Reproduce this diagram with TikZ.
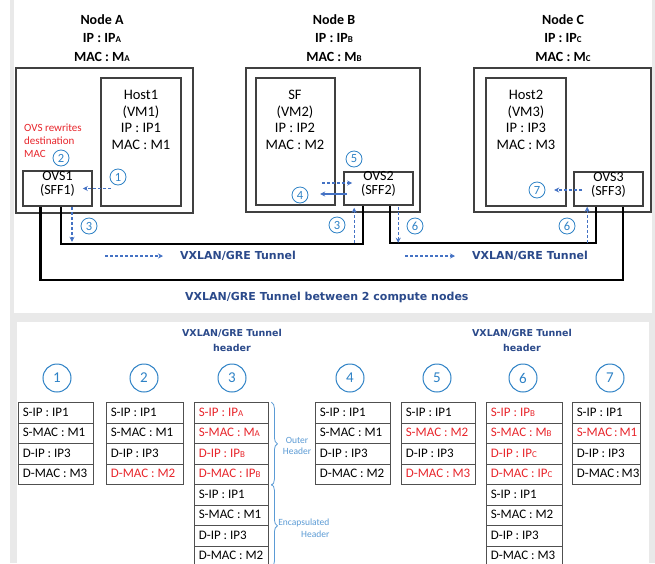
\documentclass[tikz,border=0pt]{standalone}
\usepackage{fontspec}
\setmainfont{Carlito}
\newfontfamily\tunnelfont{DejaVu Sans}
\usetikzlibrary{arrows.meta,calc,fit,matrix,decorations.pathreplacing}
\definecolor{frame}{HTML}{E9E9E9}
\definecolor{boxgray}{HTML}{404040}
\definecolor{cellgray}{HTML}{505050}
\definecolor{numblue}{HTML}{2E82C6}
\definecolor{flowblue}{HTML}{4472C4}
\definecolor{navy}{HTML}{2B4A8B}
\definecolor{hred}{HTML}{E8262C}
\definecolor{braceblue}{HTML}{5B9BD5}
\newcommand{\fs}[2]{\fontsize{#1}{#2}\selectfont}
\newcommand{\sm}[1]{{\fontsize{9}{9}\selectfont #1}}

\tikzset{
  box/.style={draw=boxgray, line width=1.6pt, inner sep=0pt},
  ovs/.style={align=center, font=\fs{14}{14}},
  title/.style={align=center, font=\bfseries\fs{14}{18.5}},
  vmtext/.style={align=center, font=\fs{14.5}{16.5}},
  note/.style={align=left, inner sep=0pt, text=hred, font=\fs{11}{13}},
  num/.style={circle, draw=numblue, text=numblue, line width=0.8pt, inner sep=0pt, minimum size=16pt, font=\fs{12.5}{12.5}},
  bignum/.style={num, line width=1pt, minimum size=28pt, font=\fs{15}{15}},
  flow/.style={flowblue, line width=1.2pt, dash pattern=on 3pt off 2pt},
  tunnel/.style={black, line width=2.2pt},
  tunneltxt/.style={inner sep=0pt, text=navy, font=\tunnelfont\bfseries\fs{11}{13}},
  hdr/.style={align=center, text=navy, font=\tunnelfont\bfseries\fs{9.5}{15}},
  cell/.style={draw=cellgray, line width=1.2pt, minimum height=20.5pt, inner xsep=4pt, inner ysep=0pt,
    text height=9.5pt, text depth=3pt, font=\fs{13}{15}},
  pkt/.style={matrix of nodes, anchor=north west, inner sep=0pt, row sep=-1.2pt,
    nodes={cell, execute at begin node={\hbox to #1\bgroup}, execute at end node={\hfil\egroup}}},
  brace/.style={decorate, decoration={brace, amplitude=6pt}, draw=braceblue, line width=0.8pt},
  bracetxt/.style={align=center, text=braceblue, font=\fs{9.5}{11.5}}
}

\begin{document}
\begin{tikzpicture}[x=1pt,y=-1pt,>={Stealth[length=5pt,width=5pt]}]
  \useasboundingbox (0,0) rectangle (655,563);
  \clip (0,0) rectangle (655,563);
  % grey backdrop and the two white panels
  \fill[frame] (10,0) rectangle (655,563);
  \fill[white] (14,0) rectangle (652,313);
  \fill[white] (17,322) rectangle (649,563);

  % compute node A
  \node[title] (titleA) at (102,38) {Node A\\IP : IP\sm{A}\\MAC : M\sm{A}};
  \node[box, fit={(16,68) (193,213)}] (nodeA) {};
  \node[box, fit={(101,78) (181,206)}] (host1) {};
  \node[vmtext] (host1txt) at (141,120) {Host1\\(VM1)\\IP : IP1\\MAC : M1};
  \node[box, ovs, fit={(23,171) (92,206)}] (ovs1) {OVS1\\(SFF1)};
  \node[note, anchor=west] (rewrite) at (24,141) {OVS rewrites\\destination\\MAC};

  % compute node B
  \node[title] (titleB) at (334,38) {Node B\\IP : IP\sm{B}\\MAC : M\sm{B}};
  \node[box, fit={(246,68) (420,212)}] (nodeB) {};
  \node[box, fit={(256,78) (335,205)}] (sf) {};
  \node[vmtext] (sftxt) at (295,120) {SF\\(VM2)\\IP : IP2\\MAC : M2};
  \node[box, ovs, fit={(344,172) (413,205)}] (ovs2) {OVS2\\(SFF2)};

  % compute node C
  \node[title] (titleC) at (563,38) {Node C\\IP : IP\sm{C}\\MAC : M\sm{C}};
  \node[box, fit={(474,68) (651,212)}] (nodeC) {};
  \node[box, fit={(486,78) (566,206)}] (host2) {};
  \node[vmtext] (host2txt) at (526,120) {Host2\\(VM3)\\IP : IP3\\MAC : M3};
  \node[box, ovs, fit={(574,172) (643,206)}] (ovs3) {OVS3\\(SFF3)};

  % tunnels
  \draw[tunnel] ($(ovs1.south west)!0.55!(ovs1.south east)$) -- ++(0,37) -| ($(ovs2.south west)!0.275!(ovs2.south east)$);
  \draw[tunnel] ($(ovs2.south west)!0.667!(ovs2.south east)$) -- ++(0,37) -| ($(ovs3.south west)!0.32!(ovs3.south east)$);
  \draw[tunnel] ($(ovs1.south west)!0.26!(ovs1.south east)$) -- ++(0,73) -| ($(ovs3.south west)!0.70!(ovs3.south east)$);

  % packet steps
  \node[num] (s1) at (118,177) {1};
  \node[num] (s2) at (61,158) {2};
  \node[num] (s3a) at (89,226) {3};
  \node[num] (s3b) at (337,225) {3};
  \node[num] (s4) at (300,195) {4};
  \node[num] (s5) at (354,159) {5};
  \node[num] (s6a) at (415,226) {6};
  \node[num] (s6b) at (567,226) {6};
  \node[num] (s7) at (537,190) {7};
  \draw[flow,->] ([xshift=11pt]host1.west |- ovs1.east) -- ([xshift=-10pt]ovs1.east);
  \draw[flow,->] ($(ovs1.south)+(14.5,0)$) -- ++(0,35);
  \draw[flow,->] ($(ovs2.south west)+(11,37)$) -- ($(ovs2.south west)+(11,2)$);
  \draw[flow,->] ($(ovs2.west)+(-21,-5.5)$) -- ($(ovs2.west)+(9,-5.5)$);
  \draw[flowblue,line width=1.2pt,->] ($(ovs2.west)+(4,5.5)$) -- ($(ovs2.west)+(-23,5.5)$);
  \draw[flow,->] ($(ovs2.south west)+(55,1)$) -- ($(ovs2.south west)+(55,37)$);
  \draw[flow,->] ($(ovs3.south west)+(14,36)$) -- ($(ovs3.south west)+(14,0)$);
  \draw[flow,->] ($(ovs3.west)+(9,1)$) -- ($(ovs3.west)+(-19,1)$);

  % legends
  \node[tunneltxt, anchor=west] (leg1) at (180,256) {VXLAN/GRE Tunnel};
  \draw[flow,->] ([xshift=-75pt]leg1.west) -- ([xshift=-17pt]leg1.west);
  \node[tunneltxt, anchor=west] (leg2) at (472,256) {VXLAN/GRE Tunnel};
  \draw[flow,->] ([xshift=-67pt]leg2.west) -- ([xshift=-17pt]leg2.west);
  \node[tunneltxt, anchor=west] (caption) at (185,297) {VXLAN/GRE Tunnel between 2 compute nodes};

  % headers at each step
  \node[hdr] (hdr3) at (232,340) {VXLAN/GRE Tunnel\\header};
  \node[hdr] (hdr6) at (522,340) {VXLAN/GRE Tunnel\\header};
  \node[bignum] (k1) at (57,378) {1};
  \node[bignum] (k2) at (144,378) {2};
  \node[bignum] (k3) at (232,378) {3};
  \node[bignum] (k4) at (350,378) {4};
  \node[bignum] (k5) at (437,378) {5};
  \node[bignum] (k6) at (523,378) {6};
  \node[bignum] (k7) at (610,378) {7};
  \matrix[pkt=67pt] (p1) at (18,402) {S-IP : IP1\\ S-MAC : M1\\ D-IP : IP3\\ D-MAC : M3\\};
  \matrix[pkt=69pt] (p2) at (106,402) {S-IP : IP1\\ S-MAC : M1\\ D-IP : IP3\\ |[text=hred]| D-MAC : M2\\};
  \matrix[pkt=66pt] (p3) at (194,402) {|[text=hred]| S-IP : IP\sm{A}\\ |[text=hred]| S-MAC : M\sm{A}\\
    |[text=hred]| D-IP : IP\sm{B}\\ |[text=hred]| D-MAC : IP\sm{B}\\
    S-IP : IP1\\ S-MAC : M1\\ D-IP : IP3\\ D-MAC : M2\\};
  \matrix[pkt=67pt] (p4) at (315,402) {S-IP : IP1\\ S-MAC : M1\\ D-IP : IP3\\ D-MAC : M2\\};
  \matrix[pkt=66pt] (p5) at (401,402) {S-IP : IP1\\ |[text=hred]| S-MAC : M2\\ D-IP : IP3\\ |[text=hred]| D-MAC : M3\\};
  \matrix[pkt=68pt] (p6) at (486,402) {|[text=hred]| S-IP : IP\sm{B}\\ |[text=hred]| S-MAC : M\sm{B}\\
    |[text=hred]| D-IP : IP\sm{C}\\ |[text=hred]| D-MAC : IP\sm{C}\\
    S-IP : IP1\\ S-MAC : M2\\ D-IP : IP3\\ D-MAC : M3\\};
  \matrix[pkt=60pt] (p7) at (572,402) {S-IP : IP1\\ |[text=hred]| S-MAC : M1\\ D-IP : IP3\\ D-MAC : M3\\};
  \draw[brace] ([xshift=2pt]p3-1-1.north east) -- ([xshift=2pt]p3-4-1.south east);
  \draw[brace] ([xshift=2pt]p3-5-1.north east) -- ([xshift=2pt]p3-8-1.south east);
  \node[bracetxt] (outerlbl) at (297,446) {Outer\\Header};
  \node[bracetxt, align=right, anchor=east] (encaplbl) at (333,528) {Encapsulated\\Header};
\end{tikzpicture}
\end{document}
